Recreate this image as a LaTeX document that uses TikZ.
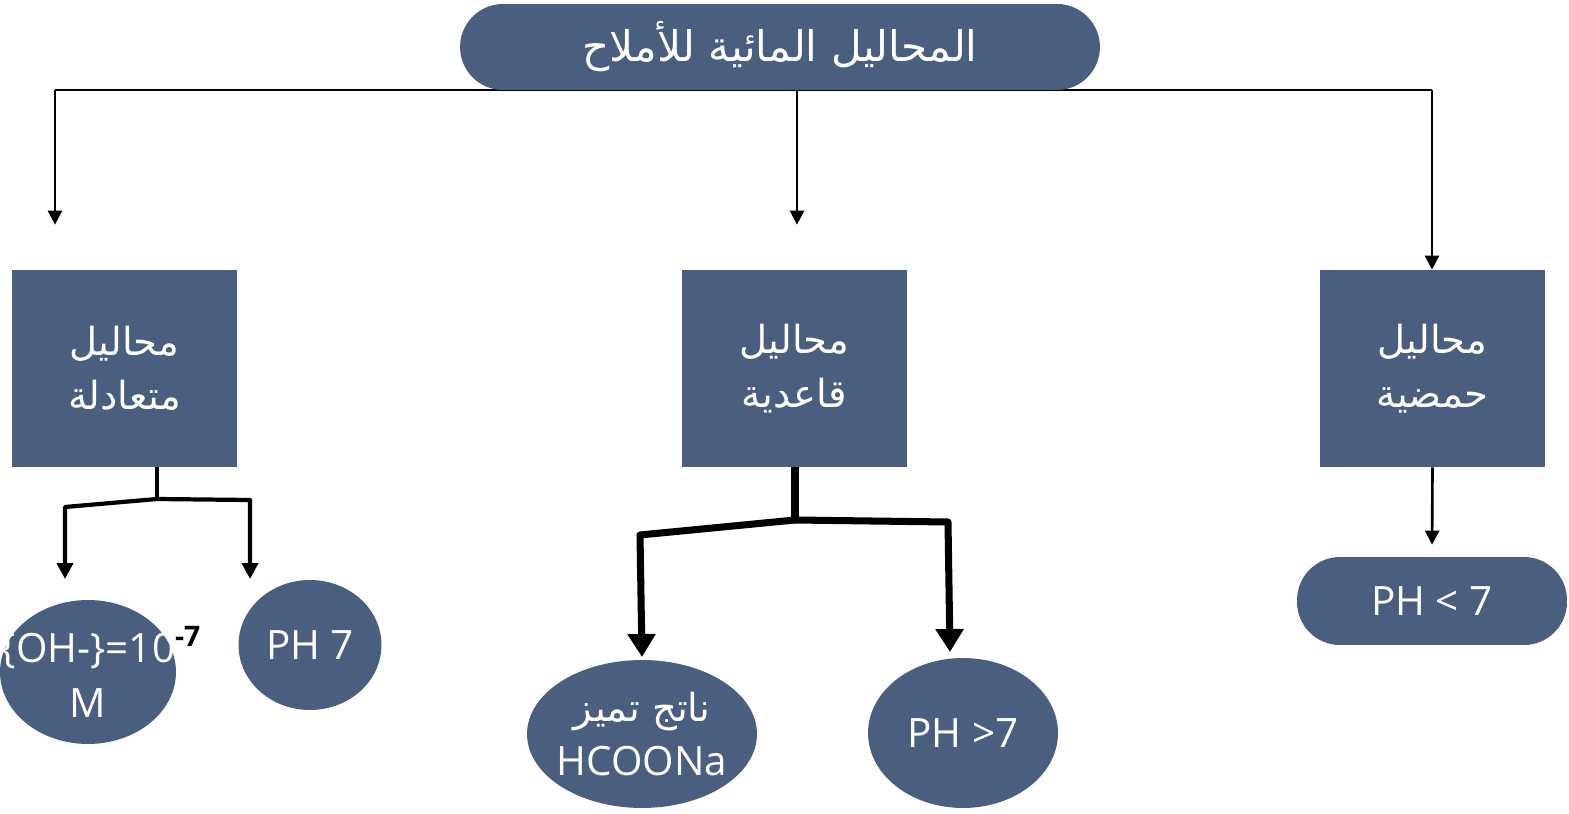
\documentclass[tikz,border=0pt]{standalone}
\usepackage{fontspec}
\setmainfont{Open Sans}
\newfontfamily\arabicfont[Script=Arabic]{DejaVu Sans}
\TeXXeTstate=1
\usetikzlibrary{shapes.geometric,arrows.meta}
\definecolor{saltblue}{RGB}{74,94,128}
\newcommand{\artext}[1]{{\arabicfont\fontsize{22}{30}\selectfont\beginR #1\endR}}

\begin{document}
\begin{tikzpicture}[x=0.02cm, y=-0.02cm,
	txt/.style={text=white,align=center,font=\fontsize{23}{31}\selectfont},
	boxx/.style={txt,fill=saltblue,minimum width=4.5cm,minimum height=3.94cm},
	ovl/.style={txt,ellipse,fill=saltblue,inner sep=0pt},
	pil/.style={txt,fill=saltblue,rounded corners=0.86cm},
	lna/.style={line width=1.5pt},
	lnb/.style={line width=2.4pt,line join=round},
	lnc/.style={line width=4pt,line join=round},
	arra/.style={lna,-{Triangle[width=0.28cm,length=0.28cm]}},
	arrb/.style={lnb,-{Triangle[width=0.32cm,length=0.32cm]}},
	arrc/.style={lnc,-{Triangle[width=0.54cm,length=0.46cm]}}]
	\useasboundingbox (0,0) rectangle (1569,814);
	\coordinate (tl) at (55,90);
	\coordinate (tm) at (797,90);
	\coordinate (tr) at (1432,90);
	\draw[lna] (tl) -- (tr);
	\node[pil, minimum width=12.8cm, minimum height=1.72cm] (title) at (780,47) {{\arabicfont\fontsize{24}{30}\selectfont\beginR المحاليل المائية للأملاح\endR}};
	\node[boxx] (neu) at (124.5,368.5) {\artext{محاليل}\\\artext{متعادلة}};
	\node[boxx] (bas) at (794.5,368.5) {\artext{محاليل}\\\artext{قاعدية}};
	\node[boxx] (acd) at (1432.5,368.5) {\artext{محاليل}\\\artext{حمضية}};
	\draw[arra, shorten >=0.9cm] (tl) -- (tl |- neu.north);
	\draw[arra, shorten >=0.9cm] (tm) -- (tm |- bas.north);
	\draw[arra] (tr) -- (tr |- acd.north);
	\node[ovl, minimum width=3.52cm, minimum height=2.88cm] (ohm) at (88,672) {\makebox[0pt]{\{OH-\}=10\rlap{\textsuperscript{\color{black}\bfseries -7}}}\\M};
	\node[ovl, minimum width=2.86cm, minimum height=2.6cm] (ph7) at (310,645) {PH 7};
	\node[ovl, minimum width=4.6cm, minimum height=2.96cm] (hco) at (642,734) {\makebox[0pt]{\artext{ناتج تميز}}\\\makebox[0pt]{HCOONa}};
	\node[ovl, minimum width=3.8cm, minimum height=3cm] (phg) at (963,733) {PH >7};
	\node[pil, minimum width=5.4cm, minimum height=1.76cm] (phl) at (1432,601) {PH < 7};
	\coordinate (nj) at (157,499);
	\coordinate (nl) at (65,507);
	\coordinate (nr) at (250,500);
	\coordinate (nla) at (65,579);
	\coordinate (nra) at (250,579);
	\draw[lnb] (neu.south -| nj) -- (nj);
	\draw[arrb] (nj) -- (nl) -- (nla);
	\draw[arrb] (nj) -- (nr) -- (nra);
	\coordinate (bj) at (795,520);
	\coordinate (bl) at (640,535);
	\coordinate (br) at (948,522);
	\coordinate (bla) at (642,657);
	\coordinate (bra) at (950,652);
	\draw[lnc] (bas.south -| bj) -- (bj);
	\draw[arrc] (bj) -- (bl) -- (bla);
	\draw[arrc] (bj) -- (br) -- (bra);
	\draw[arra, shorten >=0.24cm] (acd.south) -- (phl.north);
\end{tikzpicture}
\end{document}
